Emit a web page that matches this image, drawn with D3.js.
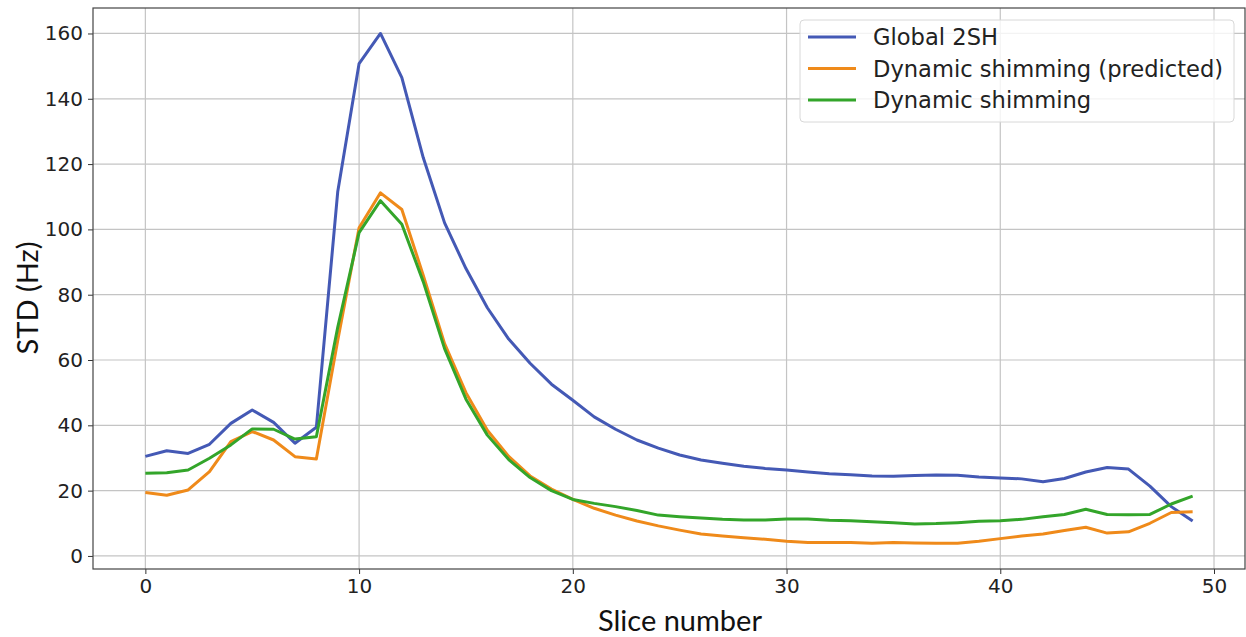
<!DOCTYPE html>
<html>
<head>
<meta charset="utf-8">
<script src="https://cdn.jsdelivr.net/npm/d3@7"></script>
<style>
  body { margin: 0; background: #fff; }
  .tick text { font-family: "DejaVu Sans", sans-serif; font-size: 20px; fill: #222; }
</style>
</head>
<body>
<div id="chart"></div>
<script>
const slices = d3.range(50);

const global2SH = [30.5, 32.2, 31.4, 34.2, 40.6, 44.7, 40.9, 34.5, 39.4, 111.5,
  150.8, 160, 146.5, 122, 102, 88, 76, 66.4, 59, 52.6,
  47.7, 42.6, 38.8, 35.5, 33, 30.9, 29.4, 28.4, 27.5, 26.8,
  26.3, 25.7, 25.2, 24.9, 24.5, 24.4, 24.6, 24.8, 24.7, 24.2,
  23.9, 23.6, 22.7, 23.7, 25.7, 27.1, 26.6, 21.4, 15.1, 10.7];

const dynPredicted = [19.4, 18.6, 20.2, 25.8, 35, 38.1, 35.5, 30.4, 29.7, 66,
  100.5, 111.2, 106.1, 86, 65, 50, 38.5, 30.5, 24.5, 20.5,
  17.3, 14.6, 12.5, 10.7, 9.2, 7.9, 6.7, 6.1, 5.6, 5.1,
  4.5, 4.1, 4.1, 4.1, 3.9, 4.1, 4.0, 3.9, 3.9, 4.5,
  5.3, 6.1, 6.7, 7.8, 8.8, 7.0, 7.4, 10.0, 13.3, 13.5];

const dynShimming = [25.3, 25.5, 26.3, 29.9, 34, 38.9, 38.8, 35.8, 36.5, 70,
  99, 108.8, 101.6, 84, 63.5, 48, 37, 29.5, 24, 20,
  17.3, 16.1, 15.1, 13.9, 12.5, 12.0, 11.6, 11.2, 11.0, 11.0,
  11.3, 11.3, 10.9, 10.8, 10.5, 10.2, 9.8, 9.9, 10.2, 10.6,
  10.8, 11.2, 12.0, 12.7, 14.3, 12.7, 12.6, 12.7, 15.9, 18.3];

const seriesNames = ['Global 2SH', 'Dynamic shimming (predicted)', 'Dynamic shimming'];
const seriesColors = ['#4459b5', '#ef8a1a', '#33a52a'];
const seriesValues = [global2SH, dynPredicted, dynShimming];

const xTicks = [0, 10, 20, 30, 40, 50];
const yTicks = [0, 20, 40, 60, 80, 100, 120, 140, 160];

const width = 1246, height = 637;
const margin = { left: 93, top: 8, right: 1, bottom: 68 };
const innerW = width - margin.left - margin.right;
const innerH = height - margin.top - margin.bottom;

const svg = d3.select('#chart').append('svg')
    .attr('width', width)
    .attr('height', height);

const g = svg.append('g')
    .attr('transform', `translate(${margin.left},${margin.top})`);

const x = d3.scaleLinear().domain([-2.45, 51.45]).range([0, innerW]);
const y = d3.scaleLinear().domain([-4, 167.8]).range([innerH, 0]);

// grid
g.append('g')
    .selectAll('line.vgrid')
    .data(xTicks)
    .enter().append('line')
    .attr('x1', d => x(d)).attr('x2', d => x(d))
    .attr('y1', 0).attr('y2', innerH)
    .attr('stroke', '#c4c4c4').attr('stroke-width', 1.2);

g.append('g')
    .selectAll('line.hgrid')
    .data(yTicks)
    .enter().append('line')
    .attr('x1', 0).attr('x2', innerW)
    .attr('y1', d => y(d)).attr('y2', d => y(d))
    .attr('stroke', '#c4c4c4').attr('stroke-width', 1.2);

// axes
const xAxis = g.append('g')
    .attr('transform', `translate(0,${innerH})`)
    .call(d3.axisBottom(x).tickValues(xTicks).tickSize(5).tickPadding(5).tickFormat(d3.format('d')));
const yAxis = g.append('g')
    .call(d3.axisLeft(y).tickValues(yTicks).tickSize(5).tickPadding(5).tickFormat(d3.format('d')));
[xAxis, yAxis].forEach(a => {
  a.select('.domain').remove();
  a.selectAll('.tick line').attr('stroke', '#333');
});

// frame
g.append('rect')
    .attr('width', innerW).attr('height', innerH)
    .attr('fill', 'none').attr('stroke', '#444').attr('stroke-width', 1.2);

// lines
const line = d3.line()
    .x((d, i) => x(slices[i]))
    .y(d => y(d));

seriesValues.forEach((vals, i) => {
  g.append('path')
      .datum(vals)
      .attr('fill', 'none')
      .attr('stroke', seriesColors[i])
      .attr('stroke-width', 3)
      .attr('stroke-linejoin', 'round')
      .attr('d', line);
});

// legend
const legend = svg.append('g').attr('transform', 'translate(800,20)');
legend.append('rect')
    .attr('width', 434).attr('height', 102)
    .attr('rx', 4)
    .attr('fill', 'rgba(255,255,255,0.8)')
    .attr('stroke', '#d8d8d8');
seriesNames.forEach((name, i) => {
  const ly = 17 + i * 31.5;
  legend.append('line')
      .attr('x1', 8).attr('x2', 56)
      .attr('y1', ly).attr('y2', ly)
      .attr('stroke', seriesColors[i]).attr('stroke-width', 3);
  legend.append('text')
      .attr('x', 73).attr('y', ly + 8)
      .attr('font-family', '"DejaVu Sans", sans-serif')
      .attr('font-size', 22.6)
      .attr('fill', '#222')
      .text(name);
});

// axis labels
svg.append('text')
    .attr('x', 680)
    .attr('y', 631)
    .attr('text-anchor', 'middle')
    .attr('font-family', 'Lato, sans-serif')
    .attr('font-size', 29)
    .attr('fill', '#111')
    .text('Slice number');

svg.append('text')
    .attr('transform', 'translate(38,298) rotate(-90)')
    .attr('text-anchor', 'middle')
    .attr('font-family', 'Lato, sans-serif')
    .attr('font-size', 29)
    .attr('fill', '#111')
    .text('STD (Hz)');
</script>
</body>
</html>
